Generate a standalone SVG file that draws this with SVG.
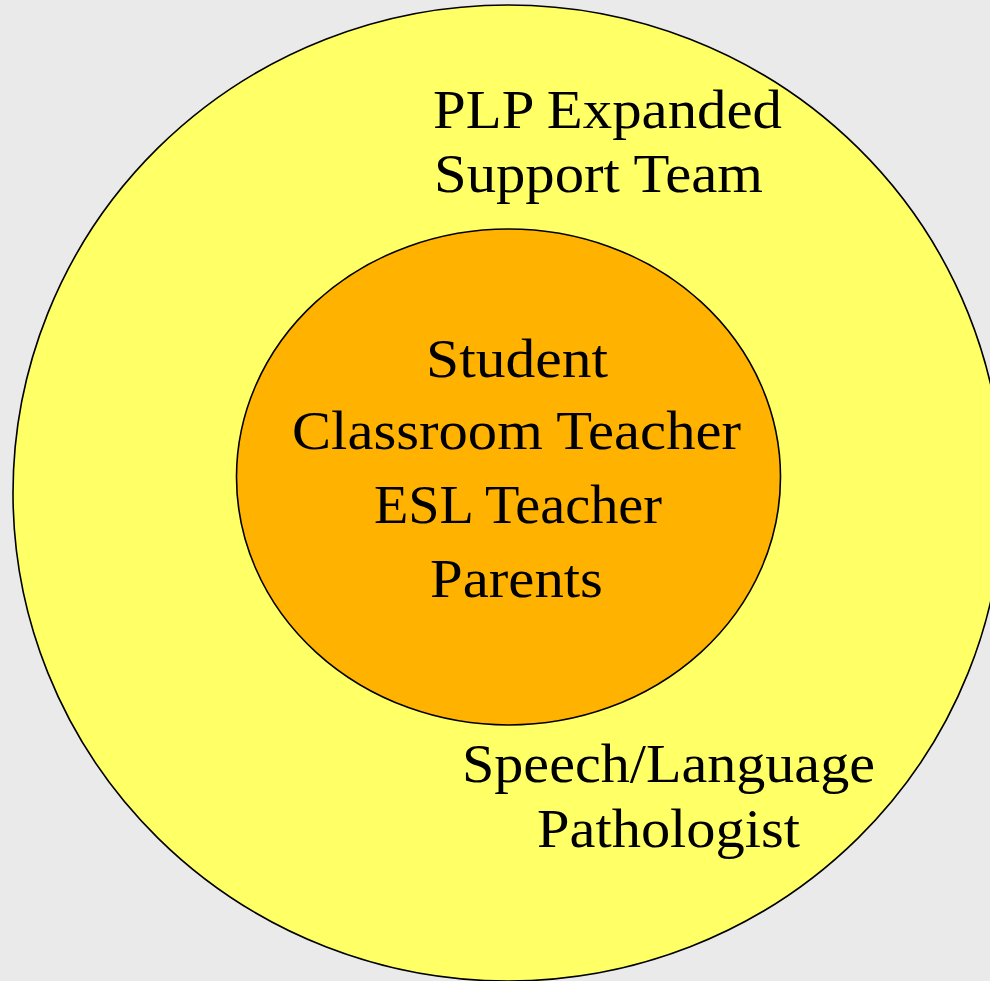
<svg xmlns="http://www.w3.org/2000/svg" width="990" height="981" viewBox="0 0 990 981">
<style>
.lbl{font-family:"Palatino Linotype","Book Antiqua","Liberation Serif",serif;font-size:55px;fill:#000}
.ring{stroke:#000;stroke-width:1.6}
</style>
<rect x="0" y="0" width="990" height="981" fill="#EAEAEA"/>
<g id="outer">
<ellipse class="ring" cx="508" cy="493" rx="495" ry="488" fill="#FFFF66"/>
<text class="lbl" x="433" y="128" textLength="349" lengthAdjust="spacingAndGlyphs">PLP Expanded</text>
<text class="lbl" x="434" y="192" textLength="329" lengthAdjust="spacingAndGlyphs">Support Team</text>
<text class="lbl" x="462" y="782" textLength="413" lengthAdjust="spacingAndGlyphs">Speech/Language</text>
<text class="lbl" x="537" y="847" textLength="263" lengthAdjust="spacingAndGlyphs">Pathologist</text>
</g>
<g id="inner">
<ellipse class="ring" cx="508.5" cy="477" rx="272" ry="248" fill="#FFB300"/>
<text class="lbl" x="426" y="377" textLength="182" lengthAdjust="spacingAndGlyphs">Student</text>
<text class="lbl" x="292" y="449" textLength="449" lengthAdjust="spacingAndGlyphs">Classroom Teacher</text>
<text class="lbl" x="374" y="523" textLength="288" lengthAdjust="spacingAndGlyphs">ESL Teacher</text>
<text class="lbl" x="430" y="597" textLength="173" lengthAdjust="spacingAndGlyphs">Parents</text>
</g>
<g id="connectors"></g>
</svg>
